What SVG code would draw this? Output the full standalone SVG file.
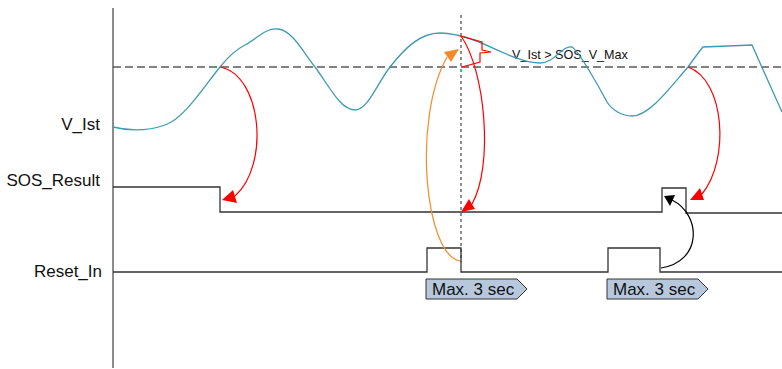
<svg xmlns="http://www.w3.org/2000/svg" width="782" height="369" viewBox="0 0 782 369">
<style>
.lbl{font-family:"Liberation Sans",Arial,sans-serif;font-size:17px;fill:#111}
.sig{fill:none;stroke:#333;stroke-width:1.3}
.tag{fill:#b7c8dd;stroke:#333;stroke-width:1}
.red{fill:none;stroke:#ff0000;stroke-width:1.2}
.redh{fill:#ff0000}
</style>
<rect width="782" height="369" fill="#fff"/>
<g id="axis">
<line x1="113" y1="8" x2="113" y2="368" stroke="#666" stroke-width="1.5"/>
</g>
<g id="threshold">
<line x1="113" y1="67" x2="782" y2="67" stroke="#595959" stroke-width="1.5" stroke-dasharray="8 4"/>
<line x1="461" y1="15" x2="461" y2="262" stroke="#444" stroke-width="1.2" stroke-dasharray="3 3"/>
<text x="512" y="59" style="font-family:'Liberation Sans',Arial,sans-serif;font-size:12.6px;fill:#111">V_Ist &gt; SOS_V_Max</text>
</g>
<g id="labels">
<text class="lbl" x="100" y="130" text-anchor="end">V_Ist</text>
<text class="lbl" x="100" y="186" text-anchor="end">SOS_Result</text>
<text class="lbl" x="102" y="277" text-anchor="end">Reset_In</text>
</g>
<g id="v_ist">
<path fill="none" stroke="#3d9bb0" stroke-width="1.3" d="M113,127 C125,130 145,132 165,125 C185,118 205,85 220,67 C228,57 235,50 245,45 C258,38 265,28 278,29 C292,30 303,52 315,67 C328,84 340,110 355,110 C368,110 378,82 390,67 C405,48 420,33 440,33 C450,33 455,35 461,36 C485,41 515,63 540,63 C555,63 562,45 572,47 C578,50 598,85 607,102 C612,110 622,116 632,116 C650,116 672,85 688,67 C693,60 698,53 703,47 L752,45 L782,112"/>
</g>
<g id="sos_result">
<polyline class="sig" points="113,187 220,187 220,212 662,212 662,188 686,188 686,213 782,213"/>
</g>
<g id="reset_in">
<polyline class="sig" points="113,272 427,272 427,248 461,248 461,272 608,272 608,248 660,248 660,272 782,272"/>
</g>
<g id="tag1">
<polygon class="tag" points="426,279 517,279 527,289 517,299 426,299"/>
<text class="lbl" x="432" y="295">Max. 3 sec</text>
</g>
<g id="tag2">
<polygon class="tag" points="607,279 698,279 708,289 698,299 607,299"/>
<text class="lbl" x="613" y="295">Max. 3 sec</text>
</g>
<g id="callout">
<polyline class="red" points="460,36 482,42 482,50 491,52 480,53 480,62 462,67"/>
</g>
<g id="connectors">
<path class="red" d="M220,67 C262,75 270,165 235,196"/>
<polygon class="redh" points="222,200 237,203 233,190"/>
<path class="red" d="M461,36 C485,70 494,165 472,204"/>
<polygon class="redh" points="461,212 475,209 469,199"/>
<path class="red" d="M688,67 C725,80 730,160 702,194"/>
<polygon class="redh" points="690,200 704,200 700,188"/>
<path fill="none" stroke="#f58a2a" stroke-width="1.2" d="M460,261 C425,255 412,120 447,57"/>
<polygon fill="#f58a2a" points="459,49 444,52 451,62"/>
<path fill="none" stroke="#000" stroke-width="1.2" d="M661,268 C702,262 702,215 672,200"/>
<polygon fill="#000" points="664,196 675,195 670,206"/>
</g>
</svg>
